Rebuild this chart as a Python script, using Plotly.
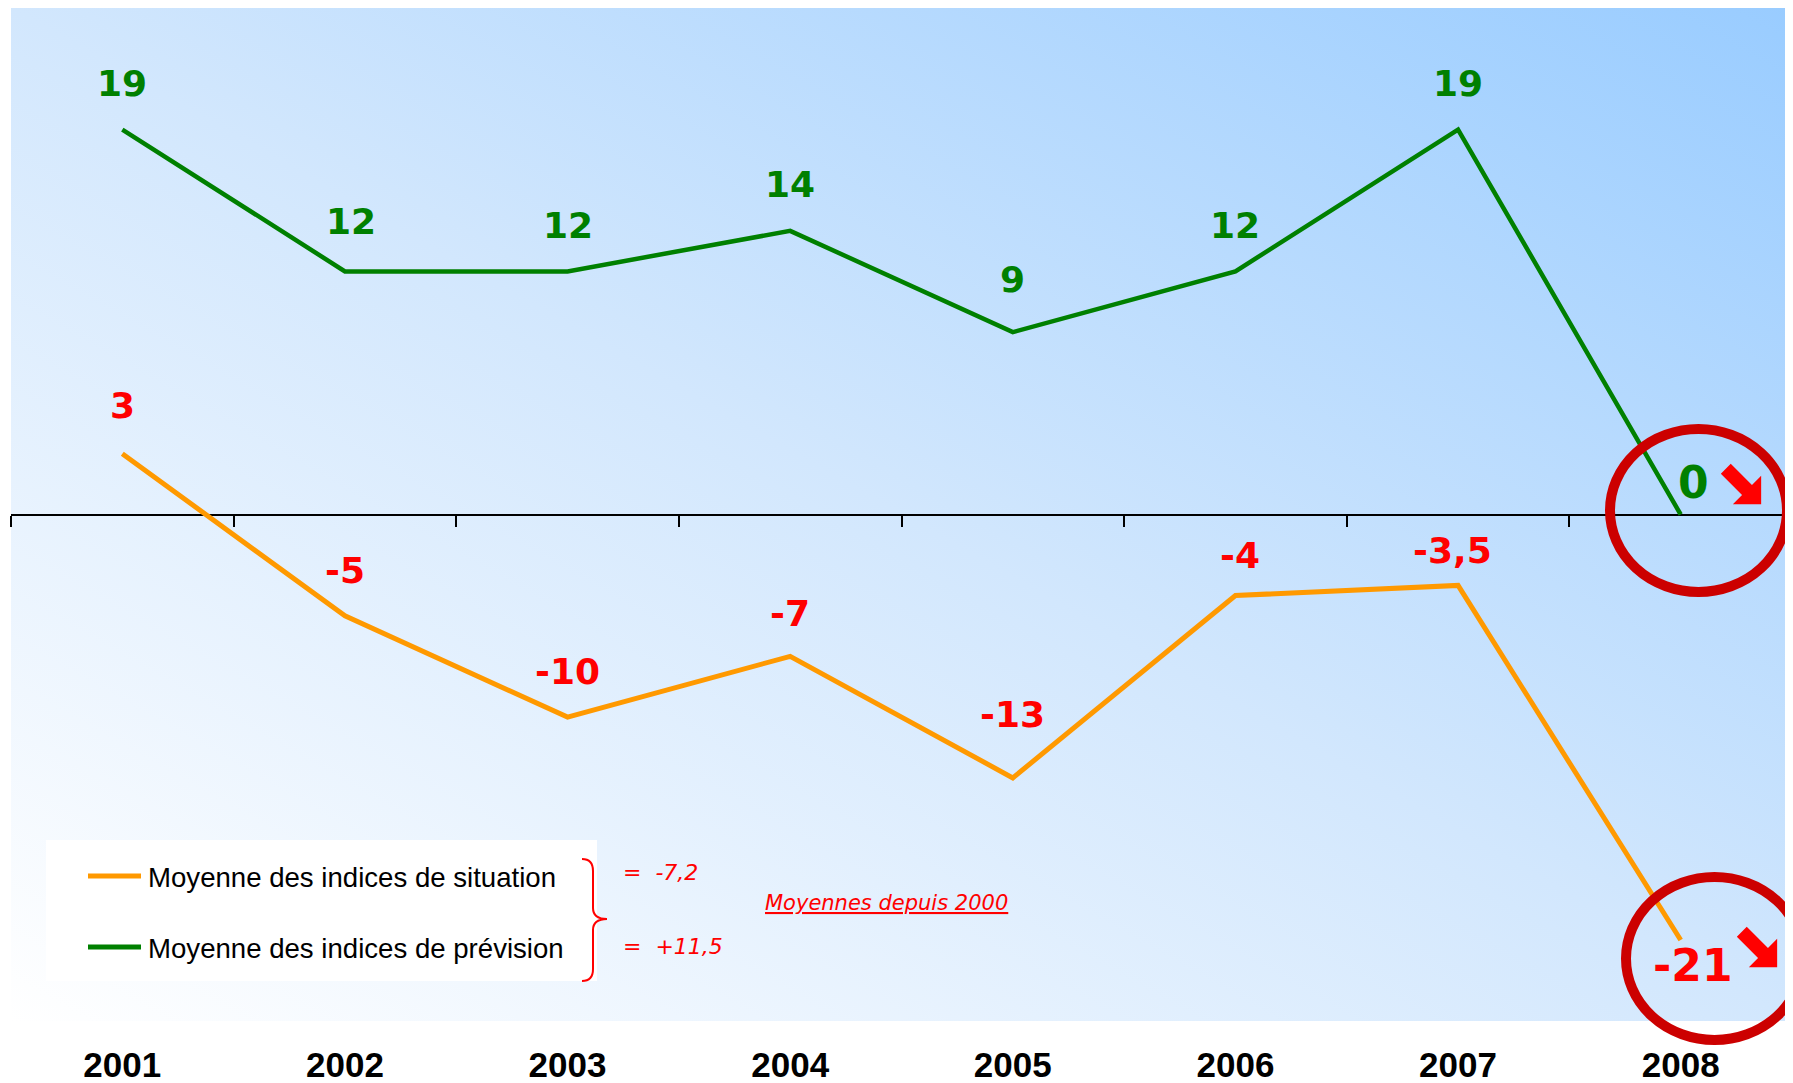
import base64
import math
import plotly.graph_objects as go

# ---------------- data ----------------
years = ["2001", "2002", "2003", "2004", "2005", "2006", "2007", "2008"]
situation = [3, -5, -10, -7, -13, -4, -3.5, -21]      # orange
prevision = [19, 12, 12, 14, 9, 12, 19, 0]            # green
situation_labels = ["3", "-5", "-10", "-7", "-13", "-4", "-3,5", "-21"]
prevision_labels = ["19", "12", "12", "14", "9", "12", "19", "0"]
legend_names = ["Moyenne des indices de situation", "Moyenne des indices de prévision"]
mean_texts = ["=\u00a0\u00a0-7,2", "=\u00a0\u00a0+11,5"]
mean_title = "Moyennes depuis 2000"

# label offsets (pixels) - styling only
sit_dy = [48, 45, 46, 43, 63, 40, 35, -26]
sit_dx = [0, 0, 0, 0, 0, 5, -6, 12]
pre_dy = [46, 50, 46, 46, 53, 46, 46, 32]
pre_dx = [0, 6, 0, 0, 0, 0, 0, 13]

GREEN = "rgb(0,128,0)"
ORANGE = "rgb(255,153,0)"
RED = "rgb(255,0,0)"
DARKRED = "rgb(204,0,0)"

OFF = 8                     # page offset (body margin)
W_FIG, H_FIG = 1785, 1075
# plot area in page pixels
L, R, T, B = 11, 1792, 8, 1021
PW, PH = R - L, B - T


def px(x):
    return (x - L) / PW


def py(y):
    return (B - y) / PH


fig = go.Figure()
fig.add_trace(go.Scatter(x=years, y=prevision, mode="lines", name=legend_names[1],
                         line=dict(color=GREEN, width=4.5), showlegend=False,
                         xaxis="x", yaxis="y"))
fig.add_trace(go.Scatter(x=years, y=situation, mode="lines", name=legend_names[0],
                         line=dict(color=ORANGE, width=5), showlegend=False,
                         xaxis="x2", yaxis="y"))

# gradient background as svg image
svg = ('<svg xmlns="http://www.w3.org/2000/svg" width="1781" height="1013" '
       'viewBox="0 0 1781 1013" preserveAspectRatio="none"><defs>'
       '<linearGradient id="g" x1="0" y1="1" x2="1" y2="0">'
       '<stop offset="0" stop-color="#FFFFFF"/>'
       '<stop offset="0.5" stop-color="#D2E7FD"/>'
       '<stop offset="1" stop-color="#99CCFF"/>'
       '</linearGradient></defs>'
       '<rect x="0" y="0" width="1781" height="1013" fill="url(#g)"/></svg>')
src = "data:image/svg+xml;base64," + base64.b64encode(svg.encode()).decode()
fig.add_layout_image(dict(source=src, xref="paper", yref="paper", x=0, y=1,
                          sizex=1, sizey=1, sizing="stretch", layer="below",
                          xanchor="left", yanchor="top"))

annotations = []
for i, yr in enumerate(years):
    big = (i == len(years) - 1)
    size = 44 if big else 36
    annotations.append(dict(x=i, y=prevision[i], xref="x", yref="y",
                            text="<b>" + prevision_labels[i] + "</b>", showarrow=False,
                            xshift=pre_dx[i], yshift=pre_dy[i],
                            xanchor="center", yanchor="middle",
                            font=dict(family="DejaVu Sans", size=size, color=GREEN)))
    annotations.append(dict(x=i, y=situation[i], xref="x", yref="y",
                            text="<b>" + situation_labels[i] + "</b>", showarrow=False,
                            xshift=sit_dx[i], yshift=sit_dy[i],
                            xanchor="center", yanchor="middle",
                            font=dict(family="DejaVu Sans", size=size, color=RED)))

shapes = []
# legend box
shapes.append(dict(type="rect", xref="paper", yref="paper", x0=px(46), x1=px(597),
                   y0=py(981), y1=py(840), fillcolor="white", line=dict(width=0),
                   layer="above"))
for name, col, yy in [(legend_names[0], ORANGE, 876), (legend_names[1], GREEN, 947)]:
    shapes.append(dict(type="line", xref="paper", yref="paper", x0=px(88), x1=px(141),
                       y0=py(yy), y1=py(yy), line=dict(color=col, width=5)))
    annotations.append(dict(x=px(146), y=py(yy + 1), xref="paper", yref="paper",
                            text=name, showarrow=False, xanchor="left", yanchor="middle",
                            font=dict(family="Liberation Sans", size=27.6, color="black")))

# brace
xe, xm, xp = 582, 593, 607
yt, yc, yb = 859, 919, 981
path = (f"M{px(xe)},{py(yt)} Q{px(xm)},{py(yt)} {px(xm)},{py(yt + 12)} "
        f"L{px(xm)},{py(yc - 11)} Q{px(xm)},{py(yc)} {px(xp)},{py(yc)} "
        f"Q{px(xm)},{py(yc)} {px(xm)},{py(yc + 11)} "
        f"L{px(xm)},{py(yb - 12)} Q{px(xm)},{py(yb)} {px(xe)},{py(yb)}")
shapes.append(dict(type="path", xref="paper", yref="paper", path=path,
                   line=dict(color=RED, width=2)))

for txt, yy in zip(mean_texts, [872, 946]):
    annotations.append(dict(x=px(621), y=py(yy), xref="paper", yref="paper", text=txt,
                            showarrow=False, xanchor="left", yanchor="middle",
                            font=dict(family="DejaVu Sans", size=22, color=RED, style="italic")))
annotations.append(dict(x=px(763), y=py(903), xref="paper", yref="paper",
                        text="<u>" + mean_title + "</u>", showarrow=False,
                        xanchor="left", yanchor="middle",
                        font=dict(family="DejaVu Sans", size=21, color=RED, style="italic")))

# circles
for (cx, cy) in [(1698.5, 510.5), (1714.5, 958.5)]:
    shapes.append(dict(type="circle", xref="paper", yref="paper",
                       x0=px(cx - 88.5), x1=px(cx + 88.5), y0=py(cy + 81.5), y1=py(cy - 81.5),
                       line=dict(color=DARKRED, width=10)))


# arrows (down-right)
def arrow(cxp, cyp):
    Lh, h, Hh, w = 50, 20, 20, 7
    pts = [(0, -w), (Lh - h, -w), (Lh - h, -Hh), (Lh, 0), (Lh - h, Hh), (Lh - h, w), (0, w)]
    c = math.cos(math.pi / 4)
    rp = [((u - v) * c, (u + v) * c) for u, v in pts]
    xs = [p[0] for p in rp]
    ys = [p[1] for p in rp]
    mx = (max(xs) + min(xs)) / 2
    my = (max(ys) + min(ys)) / 2
    s = " ".join(("M" if k == 0 else "L") + f"{px(cxp + x - mx)},{py(cyp + y - my)}"
                 for k, (x, y) in enumerate(rp)) + " Z"
    return dict(type="path", xref="paper", yref="paper", path=s,
                fillcolor=RED, line=dict(width=0))


shapes.append(arrow(1741, 484))
shapes.append(arrow(1757, 947))

fig.update_layout(
    width=W_FIG, height=H_FIG,
    margin=dict(l=L - OFF, r=W_FIG - (R - OFF), t=T - OFF, b=H_FIG - (B - OFF), pad=0,
                autoexpand=False),
    paper_bgcolor="white", plot_bgcolor="rgba(0,0,0,0)",
    showlegend=False,
    xaxis=dict(type="category", range=[-0.5, 7.5], showgrid=False, zeroline=False,
               showline=False, ticks="outside", ticklen=13, tickcolor="rgba(0,0,0,0)",
               tickfont=dict(family="Liberation Sans", size=35, color="black", weight="bold"),
               automargin=False, fixedrange=True),
    xaxis2=dict(type="category", overlaying="x", anchor="free", position=0.5, side="bottom",
                range=[-0.5, 7.5], showgrid=False, zeroline=False, showline=True,
                linecolor="black", linewidth=2, ticks="outside", tickson="boundaries",
                ticklen=11, tickwidth=1.5, tickcolor="black", showticklabels=False,
                layer="below traces", automargin=False),
    yaxis=dict(range=[-25, 25], showgrid=False, zeroline=False, showticklabels=False,
               showline=False, ticks="", automargin=False, fixedrange=True),
    annotations=annotations,
    shapes=shapes,
)

fig.write_html("out.html")
